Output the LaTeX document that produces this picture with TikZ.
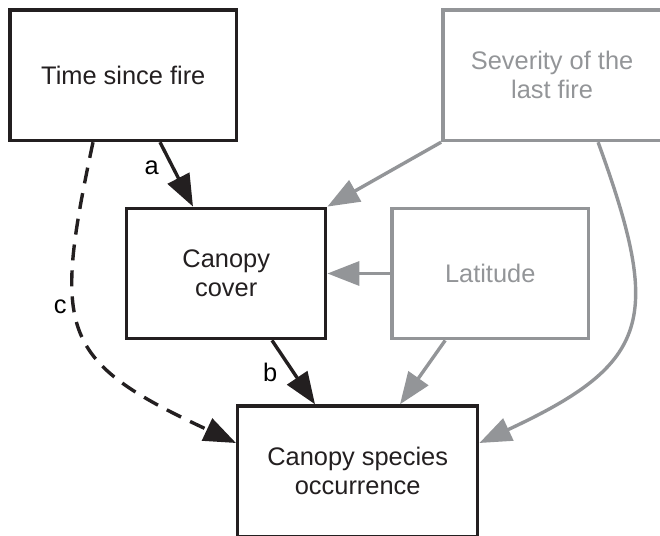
\documentclass[tikz,border=0pt]{standalone}
\usepackage{fontspec}
\setmainfont{Liberation Sans}
\usetikzlibrary{positioning, arrows.meta}
\definecolor{inkblack}{HTML}{231F20}
\definecolor{inkgrey}{HTML}{939598}
\tikzset{
  mainbox/.style={rectangle, minimum height=65.2pt, text centered, align=center, draw=inkblack, line width=1.7pt, text=inkblack},
  greybox/.style={rectangle, minimum height=65.2pt, text centered, align=center, draw=inkgrey, line width=1.7pt, text=inkgrey},
  arrow/.style={line width=1.7pt, draw=inkblack, -{Triangle[length=16pt,width=12pt]}},
  greyarrow/.style={arrow, draw=inkgrey}
}

\begin{document}
\begin{tikzpicture}[
        x=0.5pt, y=0.5pt,
        node distance=30pt,
        every node/.style={font=\fontsize{12.7}{14.6}\selectfont} % same size for boxes and path labels
    ]
        \useasboundingbox (0,0) rectangle (660,-536);

        \node (tsf) [mainbox, minimum width=113.3pt] at (123.3,-75.3) {Time since fire};
        \node (sev) [greybox, minimum width=109.3pt, right=101.4pt of tsf] {Severity of the\\ last fire};
        \node (cc) [mainbox, minimum width=99.5pt] at (226.2,-273.5) {Canopy\\ cover};
        \node (lat) [greybox, minimum width=98.3pt, right=31.4pt of cc] {Latitude};
        \node (cso) [mainbox, minimum width=120pt] at (357.7,-471.2) {Canopy species\\ occurrence};

        % paths a, b, c
        \draw [arrow] ([xshift=18.35pt]tsf.south) -- node[left=3pt, pos=0.4] {a} ([xshift=-16.6pt]cc.north);
        \draw [arrow] ([xshift=22.9pt]cc.south) -- node[left=4pt] {b} ([xshift=-21.35pt]cso.north);
        \draw [arrow, dash pattern=on 8pt off 5pt] ([xshift=-15.15pt]tsf.south) to[out=-102, in=155, looseness=1.5] node[left, pos=0.4] {c} ([yshift=14.1pt]cso.west);

        % covariates
        \draw [greyarrow] (sev.south west) -- (cc.north east);
        \draw [greyarrow] (lat.west) -- (cc.east);
        \draw [greyarrow] ([xshift=-22.5pt]lat.south) -- ([xshift=21.15pt]cso.north);
        \draw [greyarrow] ([xshift=23pt]sev.south) to[out=-70, in=25, looseness=1.5] ([yshift=14.1pt]cso.east);
    \end{tikzpicture}
\end{document}
